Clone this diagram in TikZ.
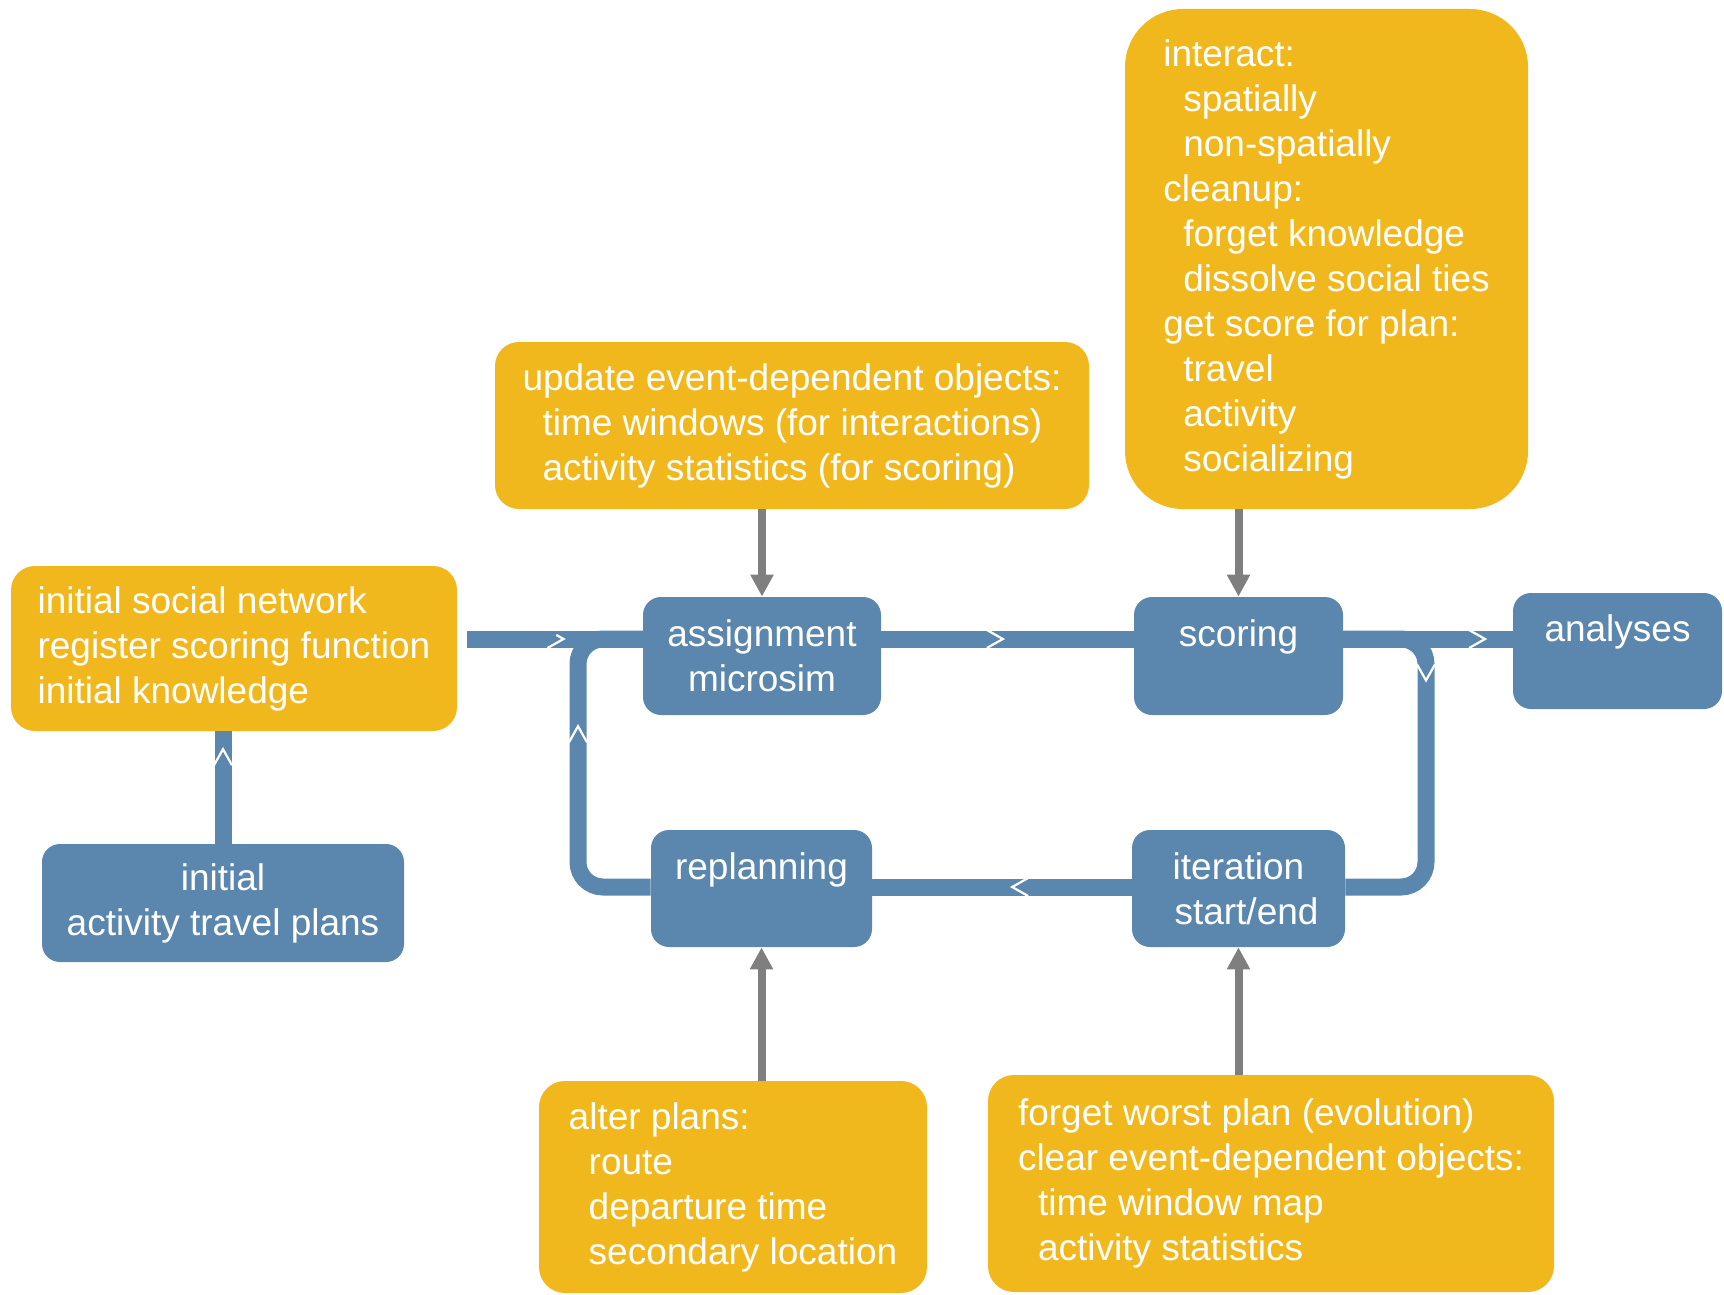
\documentclass[tikz,border=0pt]{standalone}
\usepackage{fontspec}
\setmainfont{Liberation Sans}
\usetikzlibrary{arrows.meta,decorations.markings}
\definecolor{boxyellow}{HTML}{F0B81C}
\definecolor{boxblue}{HTML}{5B87AF}
\definecolor{feedgray}{HTML}{7F7F7F}

\begin{document}
\begin{tikzpicture}[
  x=0.5pt,
  y=-0.5pt,
  every node/.style={font=\fontsize{18.5}{22.5}\selectfont, text=white, inner sep=0pt},
  task/.style={fill=boxblue, rounded corners=9pt, align=center},
  note/.style={fill=boxyellow, rounded corners=12pt, align=left,
    execute at begin node={\rule{0pt}{20.5pt}}},
  flow/.style={draw=boxblue, line width=8.5pt, rounded corners=12.5pt},
  feed/.style={draw=feedgray, line width=4pt, -{Triangle[width=11pt,length=11pt]}},
  chev/.style={postaction={decorate, decoration={markings,
      mark=at position #1 with {\draw[white, line width=1.1pt, sharp corners]
        (-8,-9) -- (8,0) -- (-8,9);}}}}
]
  \useasboundingbox (0,0) rectangle (1724,1295);

  % ---- the loop of one iteration ---------------------------------------
  \node[task, minimum width=119pt, minimum height=59pt] (assign) at (762,656)
    {assignment\\microsim};
  \node[task, minimum width=104.5pt, minimum height=59pt] (scoring) at (1238.5,656)
    {scoring\\\mbox{}};
  \node[task, minimum width=110.5pt, minimum height=58.5pt] (replan) at (761.5,888.5)
    {replanning\\\mbox{}};
  \node[task, minimum width=106.5pt, minimum height=58.5pt] (iter) at (1238.5,888.5)
    {iteration\\\hspace*{8pt}start/end};

  % ---- before and after ------------------------------------------------
  \node[task, minimum width=181pt, minimum height=59pt] (initplans) at (223,903)
    {initial\\activity travel plans};
  \node[task, minimum width=104.5pt, minimum height=58pt] (analyses) at (1617.5,651)
    {analyses\\\mbox{}};
  \node[note, minimum width=223pt, minimum height=82.5pt] (initnet) at (234,648.5)
    {initial social network\\register scoring function\\initial knowledge};

  % ---- what each step does ---------------------------------------------
  \node[note, minimum width=297pt, minimum height=83.5pt] (update) at (792,425.5)
    {update event-dependent objects:\\
     \hspace*{10pt}time windows (for interactions)\\
     \hspace*{10pt}activity statistics (for scoring)};
  \node[note, minimum width=201.5pt, minimum height=250pt, rounded corners=29pt]
    (interact) at (1326.5,259)
    {interact:\\
     \hspace*{10pt}spatially\\
     \hspace*{10pt}non-spatially\\
     cleanup:\\
     \hspace*{10pt}forget knowledge\\
     \hspace*{10pt}dissolve social ties\\
     get score for plan:\\
     \hspace*{10pt}travel\\
     \hspace*{10pt}activity\\
     \hspace*{10pt}socializing};
  \node[note, minimum width=194pt, minimum height=106pt, rounded corners=13pt]
    (alter) at (733,1187)
    {alter plans:\\
     \hspace*{10pt}route\\
     \hspace*{10pt}departure time\\
     \hspace*{10pt}secondary location};
  \node[note, minimum width=283pt, minimum height=108.5pt, rounded corners=13pt]
    (forget) at (1271,1183.5)
    {forget worst plan (evolution)\\
     clear event-dependent objects:\\
     \hspace*{10pt}time window map\\
     \hspace*{10pt}activity statistics};

  % ---- levels of the blue bands ----------------------------------------
  \coordinate (upper) at (0,639);
  \coordinate (lower) at (0,887);
  \coordinate (loopL) at (578,0);
  \coordinate (loopR) at (1426,0);

  % ---- blue bands ------------------------------------------------------
  \draw[flow, chev=0.77] (initplans.north) -- (initplans.north |- initnet.south);
  \draw[flow, chev=0.53, shorten <=5pt] (initnet.east |- upper) -- (assign.west |- upper);
  \draw[flow, chev=0.45] (assign.east |- upper) -- (scoring.west |- upper);
  \draw[flow, chev=0.79] (scoring.east |- upper) -- (analyses.west |- upper);
  \draw[flow, chev=0.27] (scoring.east |- upper) -- (loopR |- upper)
    -- (loopR |- lower) -- (iter.east |- lower);
  \draw[flow, chev=0.43] (iter.west |- lower) -- (replan.east |- lower);
  \draw[flow, chev=0.59] (replan.west |- lower) -- (loopL |- lower)
    -- (loopL |- upper) -- (assign.west |- upper);

  % ---- grey feeds into the steps ---------------------------------------
  \draw[feed] (assign.north |- update.south) -- (assign.north);
  \draw[feed] (scoring.north |- interact.south) -- (scoring.north);
  \draw[feed] (replan.south |- alter.north) -- (replan.south);
  \draw[feed] (iter.south |- forget.north) -- (iter.south);
\end{tikzpicture}
\end{document}
